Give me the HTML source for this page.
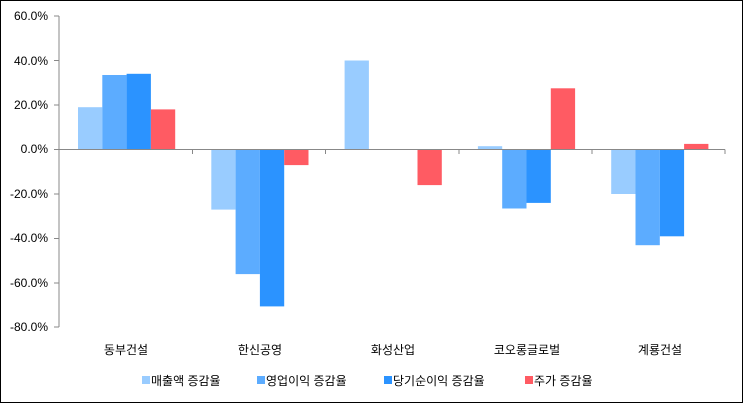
<!DOCTYPE html><html><head><meta charset="utf-8"><style>body{margin:0;background:#fff}svg{display:block}text{font-family:"Liberation Sans","Noto Sans CJK KR",sans-serif;font-size:12px;fill:#000}</style></head><body>
<svg width="743" height="403" xmlns="http://www.w3.org/2000/svg">
<rect x="0.5" y="0.5" width="742" height="402" fill="#fff" stroke="#000"/>
<g>
<rect x="78" y="107.2" width="24.3" height="42.3" fill="#99CCFF"/>
<rect x="102.3" y="75" width="24.3" height="74.5" fill="#5CACFF"/>
<rect x="126.6" y="73.8" width="24.3" height="75.7" fill="#2B93FF"/>
<rect x="150.9" y="109.4" width="24.3" height="40.1" fill="#FF5B63"/>
<rect x="211.3" y="149.5" width="24.3" height="60.1" fill="#99CCFF"/>
<rect x="235.6" y="149.5" width="24.3" height="124.6" fill="#5CACFF"/>
<rect x="259.9" y="149.5" width="24.3" height="156.9" fill="#2B93FF"/>
<rect x="284.2" y="149.5" width="24.3" height="15.6" fill="#FF5B63"/>
<rect x="344.6" y="60.5" width="24.3" height="89" fill="#99CCFF"/>
<rect x="417.5" y="149.5" width="24.3" height="35.6" fill="#FF5B63"/>
<rect x="477.9" y="146.2" width="24.3" height="3.3" fill="#99CCFF"/>
<rect x="502.2" y="149.5" width="24.3" height="59" fill="#5CACFF"/>
<rect x="526.5" y="149.5" width="24.3" height="53.4" fill="#2B93FF"/>
<rect x="550.8" y="88.3" width="24.3" height="61.2" fill="#FF5B63"/>
<rect x="611.2" y="149.5" width="24.3" height="44.5" fill="#99CCFF"/>
<rect x="635.5" y="149.5" width="24.3" height="95.7" fill="#5CACFF"/>
<rect x="659.8" y="149.5" width="24.3" height="86.8" fill="#2B93FF"/>
<rect x="684.1" y="143.9" width="24.3" height="5.6" fill="#FF5B63"/>
</g>
<line x1="59" y1="16" x2="59" y2="327" stroke="#888"/>
<g stroke="#888">
<line x1="54" y1="16" x2="59" y2="16"/><line x1="54" y1="60.5" x2="59" y2="60.5"/><line x1="54" y1="105" x2="59" y2="105"/><line x1="54" y1="149.5" x2="59" y2="149.5"/><line x1="54" y1="194" x2="59" y2="194"/><line x1="54" y1="238.5" x2="59" y2="238.5"/><line x1="54" y1="283" x2="59" y2="283"/><line x1="54" y1="327" x2="59" y2="327"/>
</g>
<g text-anchor="end">
<text x="48" y="20">60.0%</text><text x="48" y="65">40.0%</text><text x="48" y="109">20.0%</text><text x="48" y="153">0.0%</text><text x="48" y="198">-20.0%</text><text x="48" y="242">-40.0%</text><text x="48" y="287">-60.0%</text><text x="48" y="331">-80.0%</text>
</g>
<g text-anchor="middle">
<text x="126" y="354">동부건설</text><text x="260" y="354">한신공영</text><text x="393" y="354">화성산업</text><text x="527" y="354">코오롱글로벌</text><text x="660" y="354">계룡건설</text>
</g>
<rect x="142" y="376" width="8" height="8" fill="#99CCFF"/><text x="151" y="385">매출액 증감율</text>
<rect x="257" y="376" width="8" height="8" fill="#5CACFF"/><text x="266" y="385">영업이익 증감율</text>
<rect x="384" y="376" width="8" height="8" fill="#2B93FF"/><text x="393" y="385">당기순이익 증감율</text>
<rect x="525" y="376" width="8" height="8" fill="#FF5B63"/><text x="534" y="385">주가 증감율</text>
<line x1="59" y1="149.5" x2="725" y2="149.5" stroke="#888"/>
<g stroke="#888"><line x1="192.5" y1="149.5" x2="192.5" y2="154"/><line x1="325.5" y1="149.5" x2="325.5" y2="154"/><line x1="459" y1="149.5" x2="459" y2="154"/><line x1="592" y1="149.5" x2="592" y2="154"/><line x1="725" y1="149.5" x2="725" y2="154"/></g>
</svg></body></html>
